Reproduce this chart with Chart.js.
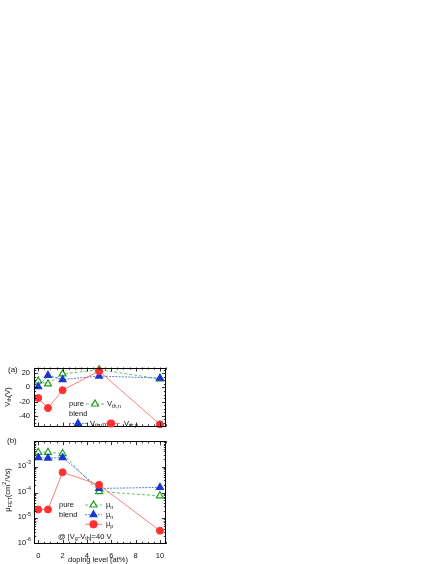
<!DOCTYPE html>
<html><head><meta charset="utf-8">
<script src="https://cdn.jsdelivr.net/npm/chart.js@4.4.0/dist/chart.umd.min.js"></script>
<style>
html,body{margin:0;padding:0;background:#fff;width:436px;height:564px;overflow:hidden;}
canvas{position:absolute;left:0;}
#ca{top:355px;} #cb{top:436px;}
</style></head><body>
<canvas id="ca" width="175" height="80"></canvas>
<canvas id="cb" width="175" height="128"></canvas>
<script>
// ---- data ----
const dopingLevels = [0, 0.8, 2, 5, 10];
const vthPureN  = [9, 5, 19, 25, 12];
const vthBlendN = [1, 17, 11, 16, 13];
const vthBlendP = [-15, -29, -4, 23, -52];
const muPureN  = [3.7e-3, 3.7e-3, 3.3e-3, 1.1e-4, 7.5e-5];
const muBlendN = [2.3e-3, 2.2e-3, 2.3e-3, 1.45e-4, 1.6e-4];
const muBlendP = [2.2e-5, 2.2e-5, 6.2e-4, 2.0e-4, 3.3e-6];
const xTickLabels = [0, 2, 4, 6, 8, 10];
const vthTickLabels = [-40, -20, 0, 20];
const muTickExponents = [-3, -4, -5, -6];

const FONT = '"Liberation Sans", Arial, Helvetica, sans-serif';
const GREEN = '#1e9e1e', BLUE = '#1838d0', RED = '#ff3030';
const GREEN_L = '#3cb43c', BLUE_L = '#3a5ae0', RED_L = '#ff5a5a';

function pts(ys){ return dopingLevels.map((x,i)=>({x, y: ys[i]})); }

function drawRich(ctx, parts, x, y, size, align){
  let w = 0;
  const items = parts.map(p => {
    const fs = p.s ? size*0.72 : size;
    ctx.font = fs + 'px ' + FONT;
    const tw = ctx.measureText(p.t).width;
    w += tw;
    return {p, fs, tw};
  });
  let cx = align === 'center' ? x - w/2 : (align === 'right' ? x - w : x);
  ctx.textBaseline = 'middle'; ctx.textAlign = 'left'; ctx.fillStyle = '#111';
  items.forEach(it => {
    ctx.font = it.fs + 'px ' + FONT;
    const dy = it.p.s === 'sub' ? size*0.32 : (it.p.s === 'sup' ? -size*0.42 : 0);
    ctx.fillText(it.p.t, cx, y + dy);
    cx += it.tw;
  });
}

function drawMarker(ctx, style, x, y, r, fill, stroke){
  ctx.save();
  ctx.setLineDash([]);
  ctx.beginPath();
  if (style === 'triangle'){
    ctx.moveTo(x, y - r);
    ctx.lineTo(x + r*0.866, y + r*0.5);
    ctx.lineTo(x - r*0.866, y + r*0.5);
    ctx.closePath();
  } else {
    ctx.arc(x, y, r, 0, Math.PI*2);
  }
  ctx.fillStyle = fill; ctx.fill();
  ctx.lineWidth = 1.2; ctx.strokeStyle = stroke; ctx.stroke();
  ctx.restore();
}

function legendEntry(ctx, ds, x1, x2, xm, y){
  ctx.save();
  ctx.strokeStyle = ds.borderColor; ctx.lineWidth = ds.borderWidth;
  ctx.setLineDash(ds.borderDash || []);
  ctx.beginPath(); ctx.moveTo(x1, y); ctx.lineTo(x2, y); ctx.stroke();
  ctx.restore();
  drawMarker(ctx, ds.pointStyle, xm, y, ds.pointRadius, ds.pointBackgroundColor, ds.pointBorderColor);
}

// frame + inward ticks
function drawFrame(chart, yMinor){
  const ctx = chart.ctx, a = chart.chartArea, xs = chart.scales.x, ys = chart.scales.y;
  ctx.save();
  ctx.strokeStyle = '#000'; ctx.lineWidth = 1; ctx.setLineDash([]);
  ctx.strokeRect(Math.round(a.left)+0.5, Math.round(a.top)+0.5, Math.round(a.right-a.left)-1, Math.round(a.bottom-a.top)-1);
  ctx.lineWidth = 0.8;
  ctx.beginPath();
  for (let v = Math.ceil(xs.min/0.5)*0.5; v <= xs.max; v += 0.5){
    const px = Math.round(xs.getPixelForValue(v)) + 0.5;
    const len = xTickLabels.includes(v) ? 4 : 2.2;
    ctx.moveTo(px, a.bottom); ctx.lineTo(px, a.bottom - len);
    ctx.moveTo(px, a.top); ctx.lineTo(px, a.top + len);
  }
  yMinor.forEach(t => {
    const py = Math.round(ys.getPixelForValue(t.v)) + 0.5;
    if (py < a.top + 1 || py > a.bottom - 1) return;
    const len = t.major ? 4 : 2.2;
    ctx.moveTo(a.left, py); ctx.lineTo(a.left + len, py);
    ctx.moveTo(a.right, py); ctx.lineTo(a.right - len, py);
  });
  ctx.stroke();
  ctx.restore();
}

// ---------------- panel (a) ----------------
const dsA = [
  {label:'Vth,n pure', data: pts(vthPureN), borderColor: GREEN_L, borderWidth: 0.8, borderDash:[3,2],
   pointStyle:'triangle', pointRadius:4, pointBackgroundColor:'#fff', pointBorderColor: GREEN, pointBorderWidth:1.2, order:3},
  {label:'Vth,n blend', data: pts(vthBlendN), borderColor: BLUE_L, borderWidth: 0.8, borderDash:[2,1.2],
   pointStyle:'triangle', pointRadius:4, pointBackgroundColor: BLUE, pointBorderColor: BLUE, pointBorderWidth:1.2, order:2},
  {label:'Vth,p blend', data: pts(vthBlendP), borderColor: RED_L, borderWidth: 0.8, borderDash:[],
   pointStyle:'circle', pointRadius:3.5, pointBackgroundColor: RED, pointBorderColor: RED, pointBorderWidth:1, order:1}
];

const plugA = {
  id:'plugA',
  afterDatasetsDraw(chart){
    const ys = chart.scales.y;
    const minor = [];
    for (let v = Math.ceil(ys.min/5)*5; v <= ys.max; v += 5) minor.push({v, major: vthTickLabels.includes(v)});
    drawFrame(chart, minor);
    const ctx = chart.ctx;
    ctx.save();
    ctx.font = '8px ' + FONT; ctx.fillStyle = '#111'; ctx.textBaseline = 'middle'; ctx.textAlign = 'left';
    ctx.fillText('(a)', 8, 15);
    // y title
    ctx.translate(7.5, 42); ctx.rotate(-Math.PI/2);
    drawRich(ctx, [{t:'V'},{t:'th',s:'sub'},{t:'(V)'}], 0, 0, 7.5, 'center');
    ctx.restore();
    // legend
    const d = chart.data.datasets;
    drawRich(ctx, [{t:'pure'}], 69, 49, 7.5, 'left');
    legendEntry(ctx, d[0], 86, 104, 95, 49);
    drawRich(ctx, [{t:'V'},{t:'th,n',s:'sub'}], 107, 49, 7.5, 'left');
    drawRich(ctx, [{t:'blend'}], 69, 59, 7.5, 'left');
    legendEntry(ctx, d[1], 69, 87, 78, 68.5);
    drawRich(ctx, [{t:'V'},{t:'th,n',s:'sub'}], 90, 68.5, 7.5, 'left');
    legendEntry(ctx, d[2], 102, 120, 111, 68.5);
    drawRich(ctx, [{t:'V'},{t:'th,p',s:'sub'}], 124, 68.5, 7.5, 'left');
  }
};

new Chart(document.getElementById('ca'), {
  type:'line',
  data:{datasets: dsA},
  options:{
    responsive:false, animation:false, devicePixelRatio:1,
    clip:false,
    layout:{padding:{top:12.5, right:9, bottom:3, left:0}},
    plugins:{legend:{display:false}, tooltip:{enabled:false}},
    scales:{
      x:{type:'linear', min:-0.35, max:10.5, display:false},
      y:{type:'linear', min:-55, max:28,
         afterBuildTicks: s => { s.ticks = vthTickLabels.map(v => ({value:v})); },
         afterFit: s => { s.width = 34; },
         grid:{display:false, drawTicks:false}, border:{display:false},
         ticks:{padding:4, color:'#111', font:{size:7.5, family:FONT}}}
    }
  },
  plugins:[plugA]
});

// ---------------- panel (b) ----------------
const dsB = [
  {label:'mu_n pure', data: pts(muPureN), borderColor: GREEN_L, borderWidth: 0.8, borderDash:[3,2],
   pointStyle:'triangle', pointRadius:4, pointBackgroundColor:'#fff', pointBorderColor: GREEN, pointBorderWidth:1.2, order:3},
  {label:'mu_n blend', data: pts(muBlendN), borderColor: BLUE_L, borderWidth: 0.8, borderDash:[2,1.2],
   pointStyle:'triangle', pointRadius:4, pointBackgroundColor: BLUE, pointBorderColor: BLUE, pointBorderWidth:1.2, order:2},
  {label:'mu_p blend', data: pts(muBlendP), borderColor: RED_L, borderWidth: 0.8, borderDash:[],
   pointStyle:'circle', pointRadius:3.5, pointBackgroundColor: RED, pointBorderColor: RED, pointBorderWidth:1, order:1}
];

const plugB = {
  id:'plugB',
  afterDatasetsDraw(chart){
    const ys = chart.scales.y;
    const minor = [];
    for (let d = -6; d <= -2; d++){
      for (let m = 1; m <= 9; m++){
        const v = m * Math.pow(10, d);
        if (v > ys.max * 1.0001) break;
        minor.push({v, major: m === 1});
      }
    }
    drawFrame(chart, minor);
    const ctx = chart.ctx;
    // log tick labels
    muTickExponents.forEach(e => {
      const py = ys.getPixelForValue(Math.pow(10, e));
      drawRich(ctx, [{t:'10'},{t:String(e),s:'sup'}], 31, py - 1, 7.5, 'right');
    });
    ctx.save();
    ctx.font = '8px ' + FONT; ctx.fillStyle = '#111'; ctx.textBaseline = 'middle'; ctx.textAlign = 'left';
    ctx.fillText('(b)', 7, 5);
    ctx.translate(8, 54); ctx.rotate(-Math.PI/2);
    drawRich(ctx, [{t:'\u03bc'},{t:'FET',s:'sub'},{t:'(cm'},{t:'2',s:'sup'},{t:'/Vs)'}], 0, 0, 7.5, 'center');
    ctx.restore();
    // x title
    drawRich(ctx, [{t:'doping level (at%)'}], 98, 124, 7.5, 'center');
    // legend
    const d = chart.data.datasets;
    drawRich(ctx, [{t:'pure'}], 59, 69, 7.5, 'left');
    legendEntry(ctx, d[0], 85, 102, 93.5, 69);
    drawRich(ctx, [{t:'\u03bc'},{t:'n',s:'sub'}], 106, 69, 7.5, 'left');
    drawRich(ctx, [{t:'blend'}], 59, 78.7, 7.5, 'left');
    legendEntry(ctx, d[1], 85, 102, 93.5, 78.7);
    drawRich(ctx, [{t:'\u03bc'},{t:'n',s:'sub'}], 106, 78.7, 7.5, 'left');
    legendEntry(ctx, d[2], 85, 102, 93.5, 88.3);
    drawRich(ctx, [{t:'\u03bc'},{t:'p',s:'sub'}], 106, 88.3, 7.5, 'left');
    drawRich(ctx, [{t:'@ |V'},{t:'g',s:'sub'},{t:'-V'},{t:'th',s:'sub'},{t:'|=40 V'}], 58, 100.5, 7.5, 'left');
  }
};

new Chart(document.getElementById('cb'), {
  type:'line',
  data:{datasets: dsB},
  options:{
    responsive:false, animation:false, devicePixelRatio:1,
    clip:false,
    layout:{padding:{top:5, right:9, bottom:0, left:0}},
    plugins:{legend:{display:false}, tooltip:{enabled:false}},
    scales:{
      x:{type:'linear', min:-0.35, max:10.5,
         afterBuildTicks: s => { s.ticks = xTickLabels.map(v => ({value:v})); },
         afterFit: s => { s.height = 20; },
         grid:{display:false, drawTicks:false}, border:{display:false},
         ticks:{padding:7, color:'#111', maxRotation:0, autoSkip:false, font:{size:7.5, family:FONT}}},
      y:{type:'logarithmic', min:1e-6, max:1e-2,
         afterFit: s => { s.width = 34; },
         grid:{display:false, drawTicks:false}, border:{display:false},
         ticks:{display:false}}
    }
  },
  plugins:[plugB]
});
</script>
</body></html>
